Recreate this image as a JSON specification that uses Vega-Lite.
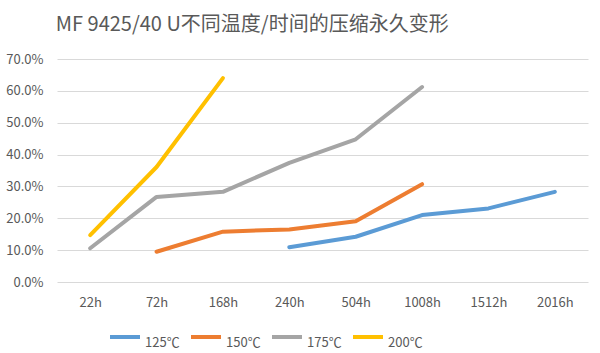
{
  "$schema": "https://vega.github.io/schema/vega-lite/v6.json",
  "width": 531,
  "height": 223,
  "autosize": {"type": "none"},
  "padding": {"left": 57, "top": 59, "right": 12, "bottom": 71},
  "background": "white",
  "title": {
    "text": "MF 9425/40 U不同温度/时间的压缩永久变形",
    "anchor": "start",
    "dx": 50,
    "offset": 18,
    "font": "Noto Sans CJK SC",
    "fontSize": 20,
    "fontWeight": "normal",
    "color": "#595959"
  },
  "config": {
    "view": {"stroke": null},
    "font": "Noto Sans CJK SC"
  },
  "data": {
    "values": [
      {"time": "240h", "hours": 240, "temp": "125℃", "value": 0.109},
      {"time": "504h", "hours": 504, "temp": "125℃", "value": 0.142},
      {"time": "1008h", "hours": 1008, "temp": "125℃", "value": 0.210},
      {"time": "1512h", "hours": 1512, "temp": "125℃", "value": 0.231},
      {"time": "2016h", "hours": 2016, "temp": "125℃", "value": 0.283},
      {"time": "72h", "hours": 72, "temp": "150℃", "value": 0.095},
      {"time": "168h", "hours": 168, "temp": "150℃", "value": 0.158},
      {"time": "240h", "hours": 240, "temp": "150℃", "value": 0.165},
      {"time": "504h", "hours": 504, "temp": "150℃", "value": 0.191},
      {"time": "1008h", "hours": 1008, "temp": "150℃", "value": 0.307},
      {"time": "22h", "hours": 22, "temp": "175℃", "value": 0.106},
      {"time": "72h", "hours": 72, "temp": "175℃", "value": 0.267},
      {"time": "168h", "hours": 168, "temp": "175℃", "value": 0.283},
      {"time": "240h", "hours": 240, "temp": "175℃", "value": 0.374},
      {"time": "504h", "hours": 504, "temp": "175℃", "value": 0.448},
      {"time": "1008h", "hours": 1008, "temp": "175℃", "value": 0.612},
      {"time": "22h", "hours": 22, "temp": "200℃", "value": 0.147},
      {"time": "72h", "hours": 72, "temp": "200℃", "value": 0.361},
      {"time": "168h", "hours": 168, "temp": "200℃", "value": 0.640}
    ]
  },
  "mark": {"type": "line", "strokeWidth": 4, "strokeCap": "round", "strokeJoin": "round"},
  "encoding": {
    "x": {
      "field": "time",
      "type": "ordinal",
      "sort": ["22h", "72h", "168h", "240h", "504h", "1008h", "1512h", "2016h"],
      "scale": {"domain": ["22h", "72h", "168h", "240h", "504h", "1008h", "1512h", "2016h"], "paddingInner": 0, "paddingOuter": 0.5},
      "axis": {
        "title": null,
        "labelAngle": 0,
        "ticks": false,
        "domain": false,
        "grid": false,
        "labelFontSize": 13,
        "labelColor": "#595959",
        "labelPadding": 14
      }
    },
    "y": {
      "field": "value",
      "type": "quantitative",
      "scale": {"domain": [0, 0.7], "nice": false},
      "axis": {
        "title": null,
        "values": [0, 0.1, 0.2, 0.3, 0.4, 0.5, 0.6, 0.7],
        "format": ".1%",
        "ticks": false,
        "domain": false,
        "gridColor": "#D9D9D9",
        "gridWidth": 1,
        "labelFontSize": 13,
        "labelColor": "#595959",
        "labelPadding": 14
      }
    },
    "color": {
      "field": "temp",
      "type": "nominal",
      "scale": {"domain": ["125℃", "150℃", "175℃", "200℃"], "range": ["#5B9BD5", "#ED7D31", "#A5A5A5", "#FFC000"]},
      "legend": {
        "title": null,
        "orient": "none",
        "direction": "horizontal",
        "legendX": 51,
        "legendY": 261,
        "symbolType": "stroke",
        "symbolStrokeWidth": 4,
        "symbolSize": 900,
        "labelFontSize": 13,
        "labelColor": "#595959",
        "labelOffset": 3,
        "labelBaseline": "top",
        "columnPadding": 3
      }
    },
    "order": {"field": "hours", "type": "quantitative"}
  }
}
